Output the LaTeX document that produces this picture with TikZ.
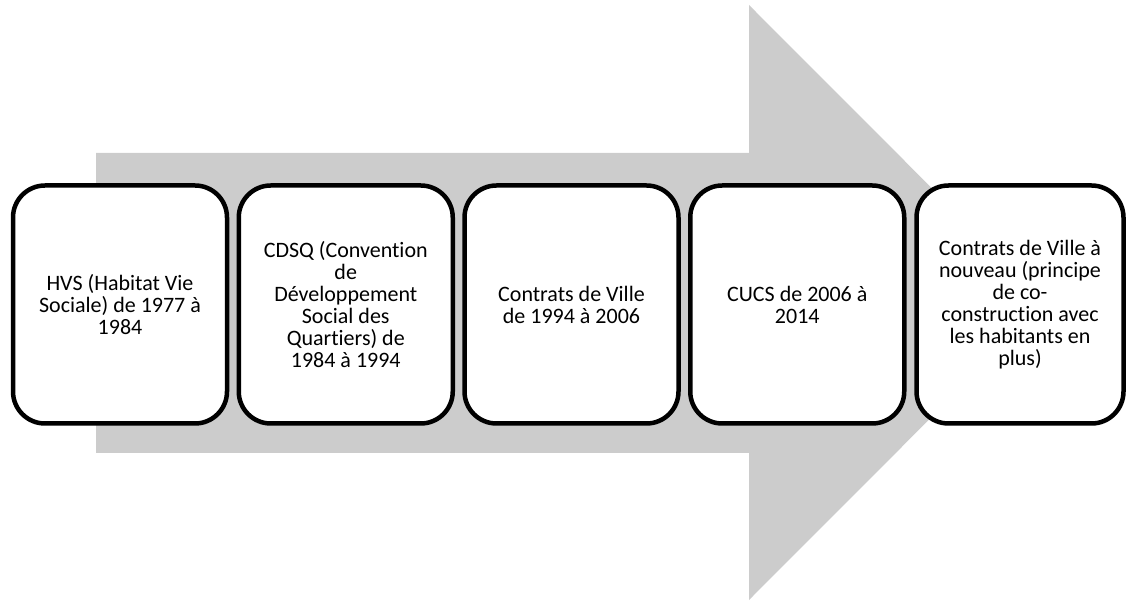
\documentclass[tikz,border=0pt]{standalone}
\usepackage{fontspec}
\setmainfont{Carlito}[Ligatures=NoCommon]
\usepackage{tikz}
\definecolor{arrowgray}{RGB}{204,204,204}
\newcommand{\widthstage}{214pt}
\newcommand{\heightstage}{238pt}
\newcommand{\pitchstage}{225.75pt}
\tikzset{
    stage/.style={draw, line width=4.5pt, rounded corners=32pt, fill=white,
        minimum width=\widthstage, minimum height=\heightstage,
        align=center, inner sep=4pt, font=\fontsize{22}{22}\selectfont},
    laststage/.style={stage, minimum width=207pt},
}
\begin{document}
\begin{tikzpicture}[x=1pt, y=-1pt]
        \useasboundingbox (0,0) rectangle (1128,601);

        % the big grey arrow behind the stages
        \fill[arrowgray] (96,153) -- (749,153) -- (749,5) -- (1046,302.5)
            -- (749,600) -- (749,453) -- (96,453) -- cycle;

        \path
            (120,304.5) node[stage] (hvs) {HVS (Habitat Vie\\Sociale) de 1977 à\\1984}
            ++(0:\pitchstage) node[stage] (cdsq) {CDSQ (Convention\\de\\Développement\\Social des\\Quartiers) de\\1984 à 1994}
            ++(0:\pitchstage) node[stage] (cv) {Contrats de Ville\\de 1994 à 2006}
            ++(0:\pitchstage) node[stage] (cucs) {CUCS de 2006 à\\2014}
            ++(0:222.75pt) node[laststage] (cvnew) {Contrats de Ville à\\nouveau (principe\\de co-\\construction avec\\les habitants en\\plus)};

    \end{tikzpicture}
\end{document}
